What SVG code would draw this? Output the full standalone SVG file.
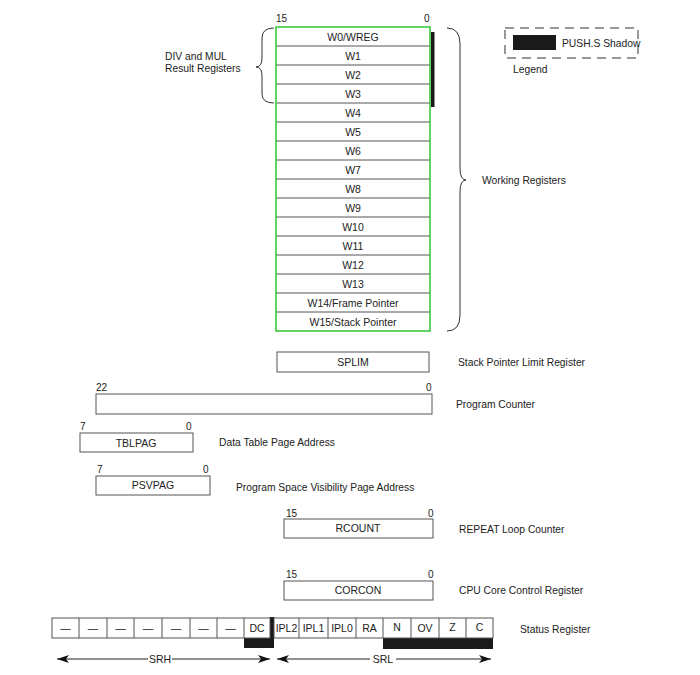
<svg xmlns="http://www.w3.org/2000/svg" width="700" height="675" viewBox="0 0 700 675">
<style>
text{font-family:"Liberation Sans",Arial,sans-serif;fill:#222}
.r{font-size:10.5px;text-anchor:middle}
.l{font-size:10.3px}
.b{font-size:10px}
.box{fill:#fff;stroke:#555;stroke-width:1}
.div{stroke:#555;stroke-width:1}
.blk{fill:#1a1a1a}
.br{fill:none;stroke:#333;stroke-width:1}
</style>
<defs>
<marker id="ah" viewBox="0 0 12 8" refX="12" refY="4" markerWidth="13" markerHeight="8" orient="auto-start-reverse" markerUnits="userSpaceOnUse"><path d="M0,0 L12,4 L0,8 L3,4 Z" fill="#111"/></marker>
</defs>
<rect width="700" height="675" fill="#fff"/>

<g id="legend">
<rect x="505" y="28" width="133" height="30" fill="none" stroke="#333" stroke-dasharray="9,6"/>
<rect class="blk" x="513" y="35" width="43" height="15"/>
<text class="l" x="562" y="47">PUSH.S Shadow</text>
<text class="l" x="513" y="73">Legend</text>
</g>

<g id="working-registers">
<text class="b" x="276" y="22">15</text>
<text class="b" x="424" y="22">0</text>
<rect x="276" y="27" width="154" height="304" fill="#fff"/>
<g class="div">
<line x1="276" y1="46" x2="430" y2="46"/><line x1="276" y1="65" x2="430" y2="65"/>
<line x1="276" y1="84" x2="430" y2="84"/><line x1="276" y1="103" x2="430" y2="103"/>
<line x1="276" y1="122" x2="430" y2="122"/><line x1="276" y1="141" x2="430" y2="141"/>
<line x1="276" y1="160" x2="430" y2="160"/><line x1="276" y1="179" x2="430" y2="179"/>
<line x1="276" y1="198" x2="430" y2="198"/><line x1="276" y1="217" x2="430" y2="217"/>
<line x1="276" y1="236" x2="430" y2="236"/><line x1="276" y1="255" x2="430" y2="255"/>
<line x1="276" y1="274" x2="430" y2="274"/><line x1="276" y1="293" x2="430" y2="293"/>
<line x1="276" y1="312" x2="430" y2="312"/>
</g>
<rect x="276" y="27" width="154" height="304" fill="none" stroke="#3cc83c" stroke-width="1.6"/>
<rect class="blk" x="431" y="32" width="3.5" height="75"/>
<text class="r" x="353" y="40.5">W0/WREG</text>
<text class="r" x="353" y="59.5">W1</text>
<text class="r" x="353" y="78.5">W2</text>
<text class="r" x="353" y="97.5">W3</text>
<text class="r" x="353" y="116.5">W4</text>
<text class="r" x="353" y="135.5">W5</text>
<text class="r" x="353" y="154.5">W6</text>
<text class="r" x="353" y="173.5">W7</text>
<text class="r" x="353" y="192.5">W8</text>
<text class="r" x="353" y="211.5">W9</text>
<text class="r" x="353" y="230.5">W10</text>
<text class="r" x="353" y="249.5">W11</text>
<text class="r" x="353" y="268.5">W12</text>
<text class="r" x="353" y="287.5">W13</text>
<text class="r" x="353" y="306.5">W14/Frame Pointer</text>
<text class="r" x="353" y="325.5">W15/Stack Pointer</text>
<path class="br" d="M274,28 Q262,28 262,38 L262,58 Q262,67 256,67 Q262,67 262,76 L262,94 Q262,103 274,103"/>
<text class="l" x="165" y="60">DIV and MUL</text>
<text class="l" x="165" y="72">Result Registers</text>
<path class="br" d="M447,28 Q460,28 460,44 L460,168 Q460,180 466,180 Q460,180 460,192 L460,315 Q460,331 447,331"/>
<text class="l" x="482" y="184">Working Registers</text>
</g>

<g id="splim">
<rect class="box" x="277" y="352" width="152" height="20"/>
<text class="r" x="353" y="366">SPLIM</text>
<text class="l" x="458" y="366">Stack Pointer Limit Register</text>
</g>

<g id="pc">
<text class="b" x="96" y="391">22</text>
<text class="b" x="426" y="391">0</text>
<rect class="box" x="96" y="394" width="336" height="20"/>
<text class="l" x="456" y="408">Program Counter</text>
</g>

<g id="tblpag">
<text class="b" x="80" y="430">7</text>
<text class="b" x="186" y="430">0</text>
<rect class="box" x="80" y="433" width="113" height="19"/>
<text class="r" x="136" y="446.5">TBLPAG</text>
<text class="l" x="219" y="446">Data Table Page Address</text>
</g>

<g id="psvpag">
<text class="b" x="97" y="473">7</text>
<text class="b" x="203" y="473">0</text>
<rect class="box" x="96" y="476" width="114" height="19"/>
<text class="r" x="153" y="489">PSVPAG</text>
<text class="l" x="236" y="491">Program Space Visibility Page Address</text>
</g>

<g id="rcount">
<text class="b" x="286" y="517">15</text>
<text class="b" x="428" y="517">0</text>
<rect class="box" x="284" y="519" width="149" height="19"/>
<text class="r" x="358" y="532">RCOUNT</text>
<text class="l" x="459" y="533">REPEAT Loop Counter</text>
</g>

<g id="corcon">
<text class="b" x="286" y="578">15</text>
<text class="b" x="428" y="578">0</text>
<rect class="box" x="284" y="581" width="149" height="19"/>
<text class="r" x="358" y="594">CORCON</text>
<text class="l" x="459" y="594">CPU Core Control Register</text>
</g>

<g id="status-register">
<rect class="blk" x="244" y="637" width="27" height="11"/>
<rect class="blk" x="270" y="617" width="4" height="31"/>
<rect class="blk" x="383" y="637" width="110" height="12"/>
<rect class="box" x="52" y="618" width="218" height="20"/>
<rect class="box" x="274" y="618" width="219" height="20"/>
<g class="div">
<line x1="79" y1="618" x2="79" y2="638"/><line x1="107" y1="618" x2="107" y2="638"/>
<line x1="134" y1="618" x2="134" y2="638"/><line x1="162" y1="618" x2="162" y2="638"/>
<line x1="190" y1="618" x2="190" y2="638"/><line x1="217" y1="618" x2="217" y2="638"/>
<line x1="244" y1="618" x2="244" y2="638"/>
<line x1="299" y1="618" x2="299" y2="638"/><line x1="328" y1="618" x2="328" y2="638"/>
<line x1="356" y1="618" x2="356" y2="638"/><line x1="383" y1="618" x2="383" y2="638"/>
<line x1="411" y1="618" x2="411" y2="638"/><line x1="439" y1="618" x2="439" y2="638"/>
<line x1="466" y1="618" x2="466" y2="638"/>
</g>
<text class="r" x="65.5" y="632">—</text>
<text class="r" x="93" y="632">—</text>
<text class="r" x="120.5" y="632">—</text>
<text class="r" x="148" y="632">—</text>
<text class="r" x="176" y="632">—</text>
<text class="r" x="203.5" y="632">—</text>
<text class="r" x="230.5" y="632">—</text>
<text class="r" x="257" y="632">DC</text>
<text class="r" x="286.5" y="632">IPL2</text>
<text class="r" x="313.5" y="632">IPL1</text>
<text class="r" x="342" y="632">IPL0</text>
<text class="r" x="369.5" y="632">RA</text>
<text class="r" x="397" y="631">N</text>
<text class="r" x="425" y="632">OV</text>
<text class="r" x="452.5" y="631">Z</text>
<text class="r" x="479.5" y="631">C</text>
<text class="l" x="520" y="633">Status Register</text>
</g>

<g id="connectors">
<line x1="57" y1="659" x2="148" y2="659" stroke="#222" marker-start="url(#ah)"/>
<line x1="172" y1="659" x2="270" y2="659" stroke="#222" marker-end="url(#ah)"/>
<line x1="277" y1="659" x2="370" y2="659" stroke="#222" marker-start="url(#ah)"/>
<line x1="396" y1="659" x2="491" y2="659" stroke="#222" marker-end="url(#ah)"/>
<text class="r" x="160" y="663">SRH</text>
<text class="r" x="383" y="663">SRL</text>
</g>
</svg>
